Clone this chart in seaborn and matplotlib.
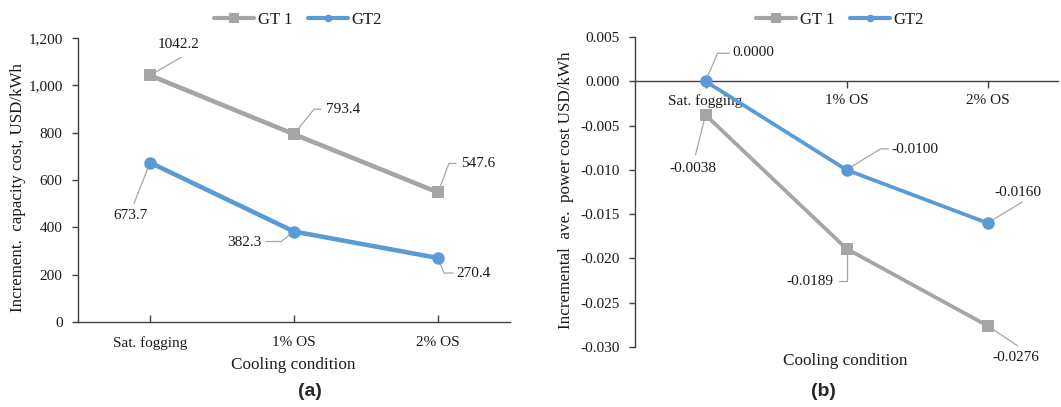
import matplotlib
matplotlib.use("Agg")
import matplotlib.pyplot as plt
import matplotlib.transforms as mtransforms
from matplotlib.lines import Line2D
from matplotlib.ticker import FuncFormatter, FixedLocator
import pandas as pd
import seaborn as sns

# ---- data -------------------------------------------------------------
conditions = ["Sat. fogging", "1% OS", "2% OS"]
series_names = ["GT 1", "GT2"]

capacity_gt1 = [1042.2, 793.4, 547.6]
capacity_gt2 = [673.7, 382.3, 270.4]

power_gt1 = [-0.0038, -0.0189, -0.0276]
power_gt2 = [0.0000, -0.0100, -0.0160]

capacity_ticks = [0, 200, 400, 600, 800, 1000, 1200]
power_ticks = [0.005, 0.000, -0.005, -0.010, -0.015, -0.020, -0.025, -0.030]

# ---- style ------------------------------------------------------------
sns.set_style("ticks")
plt.rcParams["font.family"] = ["Liberation Serif", "DejaVu Serif"]
plt.rcParams["font.size"] = 11

GRAY = "#a5a5a5"
BLUE = "#5b9bd5"
LEADER = "#a6a6a6"
AXIS = "#404040"
TEXT = "#1a1a1a"
palette = {"GT 1": GRAY, "GT2": BLUE}
markers = {"GT 1": "s", "GT2": "o"}

W, H = 1061, 407
fig = plt.figure(figsize=(W / 100, H / 100), dpi=100)


def px_axes(left, top, right, bottom):
    return fig.add_axes([left / W, 1 - bottom / H, (right - left) / W, (bottom - top) / H])


ax_a = px_axes(78, 38, 510, 322)
ax_b = px_axes(635, 37, 1058, 347)


def long_frame(gt1, gt2):
    return pd.DataFrame({
        "condition": conditions * 2,
        "series": [series_names[0]] * 3 + [series_names[1]] * 3,
        "value": list(gt1) + list(gt2),
    })


def draw_series(ax, frame, lw):
    sns.lineplot(data=frame, x="condition", y="value", hue="series", style="series",
                 palette=palette, markers=markers, dashes=False, sort=False,
                 linewidth=lw, markersize=9, markeredgewidth=0, ax=ax, zorder=3)
    ax.get_legend().remove()
    ax.set_xlim(-0.5, 2.5)
    ax.set_xlabel("")
    ax.set_ylabel("")


def callout(ax, x, y, path, text_off, text, ha):
    """Leader line (pixel offsets from the point) ending at a value label."""
    trans = mtransforms.Affine2D() + mtransforms.ScaledTranslation(x, y, ax.transData)
    xs = [p[0] for p in path]
    ys = [p[1] for p in path]
    ax.add_line(Line2D(xs, ys, transform=trans, color=LEADER, lw=0.9, zorder=1,
                       clip_on=False))
    ax.text(text_off[0], text_off[1], text, transform=trans, ha=ha, va="center",
            fontsize=11, color=TEXT, clip_on=False)


# ---- panel (a): incremental capacity cost -------------------------------
draw_series(ax_a, long_frame(capacity_gt1, capacity_gt2), lw=3.3)
ax_a.set_ylim(0, 1200)
ax_a.yaxis.set_major_locator(FixedLocator(capacity_ticks))
ax_a.yaxis.set_major_formatter(FuncFormatter(lambda v, p: f"{v:,.0f}"))
sns.despine(ax=ax_a)
for s in ("left", "bottom"):
    ax_a.spines[s].set_color(AXIS)
    ax_a.spines[s].set_linewidth(1.0)
ax_a.tick_params(axis="x", direction="in", length=5, width=1, color=AXIS, pad=10,
                 labelsize=11, labelcolor=TEXT)
ax_a.tick_params(axis="y", direction="out", length=4, width=1, color=AXIS, pad=7,
                 labelsize=11, labelcolor=TEXT)

callouts_a = {
    "GT 1": [([(0, 0), (31, 18)], (29, 31), "center"),
             ([(0, 0), (20, 25), (27, 25)], (32, 25), "left"),
             ([(0, 0), (11, 29), (18, 29)], (23, 29), "left")],
    "GT2": [([(0, 0), (-16, -41)], (-19, -53), "center"),
            ([(0, 0), (-13, -10), (-28, -10)], (-33, -11), "right"),
            ([(0, 0), (6, -15), (15, -15)], (18, -15), "left")],
}
for name, vals in (("GT 1", capacity_gt1), ("GT2", capacity_gt2)):
    for i, v in enumerate(vals):
        path, toff, ha = callouts_a[name][i]
        callout(ax_a, i, v, path, toff, f"{v:.1f}", ha)

# ---- panel (b): incremental average power cost --------------------------
draw_series(ax_b, long_frame(power_gt1, power_gt2), lw=2.7)
ax_b.set_ylim(-0.030, 0.005)
ax_b.yaxis.set_major_locator(FixedLocator(power_ticks))
ax_b.yaxis.set_major_formatter(FuncFormatter(lambda v, p: f"{round(v, 3) + 0.0:.3f}"))
ax_b.spines["top"].set_visible(False)
ax_b.spines["right"].set_visible(False)
ax_b.spines["bottom"].set_position(("data", 0))
for s in ("left", "bottom"):
    ax_b.spines[s].set_color(AXIS)
    ax_b.spines[s].set_linewidth(1.0)
ax_b.set_axisbelow(True)
ax_b.tick_params(axis="x", direction="out", length=5, width=1, color=AXIS, pad=4,
                 labelsize=11, labelcolor=TEXT)
ax_b.tick_params(axis="y", direction="out", length=4, width=1, color=AXIS, pad=7,
                 labelsize=11, labelcolor=TEXT)

callouts_b = {
    "GT 1": [([(0, 0), (-10, -40)], (-13, -54), "center"),
             ([(0, 0), (0, -32), (-8, -32)], (-13, -33), "right"),
             ([(0, 0), (30, -20)], (28, -32), "center")],
    "GT2": [([(0, 0), (12, 28), (24, 28)], (27, 29), "left"),
            ([(0, 0), (34, 21), (42, 21)], (45, 20), "left"),
            ([(0, 0), (35, 21)], (30, 31), "center")],
}
for name, vals in (("GT 1", power_gt1), ("GT2", power_gt2)):
    for i, v in enumerate(vals):
        path, toff, ha = callouts_b[name][i]
        callout(ax_b, i, v, path, toff, f"{v:.4f}", ha)

# ---- legends, axis titles, panel tags -----------------------------------
handles = [Line2D([], [], color=palette[n], lw=3, marker=markers[n],
                  markersize=7 if n == "GT 1" else 5.5, markeredgewidth=0)
           for n in series_names]
for cx in (298, 840):
    fig.legend(handles, series_names, loc="center", bbox_to_anchor=(cx / W, 1 - 20 / H),
               ncol=2, frameon=False, fontsize=12, handlelength=2.4,
               handletextpad=0.25, columnspacing=0.9, borderaxespad=0,
               labelcolor=TEXT)

fig.text(293 / W, 1 - 365 / H, "Cooling condition", ha="center", va="center",
         fontsize=12.3, color=TEXT)
fig.text(845 / W, 1 - 361 / H, "Cooling condition", ha="center", va="center",
         fontsize=12.3, color=TEXT)
fig.text(18 / W, 1 - 188 / H, "Increment.  capacity cost, USD/kWh", rotation=90,
         ha="center", va="center", fontsize=12.2, color=TEXT)
fig.text(566 / W, 1 - 190 / H, "Incremental  ave.  power cost USD/kWh", rotation=90,
         ha="center", va="center", fontsize=12.3, color=TEXT)

for cx, tag in ((310, "(a)"), (823, "(b)")):
    fig.text(cx / W, 1 - 392 / H, tag, ha="center", va="center", fontsize=14,
             fontweight="bold", family=["Liberation Sans", "DejaVu Sans"])

fig.savefig("out.png", dpi=100)
